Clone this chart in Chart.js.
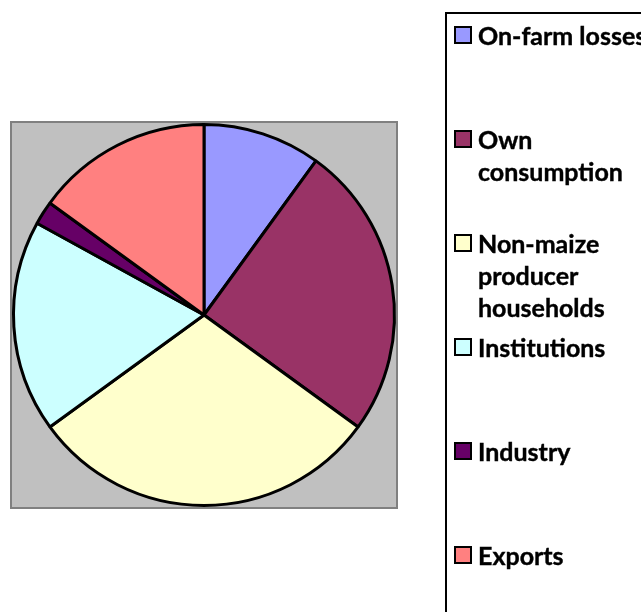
<!DOCTYPE html>
<html>
<head>
<meta charset="utf-8">
<script src="https://cdn.jsdelivr.net/npm/chart.js@4"></script>
<style>
    body { margin: 0; background: #fff; width: 641px; height: 612px; overflow: hidden; position: relative; }
    #pieChart { position: absolute; left: 0; top: 0; }
    .chart-legend {
        position: absolute; left: 445px; top: 12px; width: 220px; height: 640px;
        border: 2px solid #000; box-sizing: border-box;
        font-family: Lato, "Open Sans", sans-serif; font-weight: 700; font-size: 25px; color: #000;
    }
    .chart-legend-item { position: absolute; left: 7px; }
    .legend-color {
        position: absolute; left: 0; top: 0; width: 18px; height: 18px;
        border: 2px solid #000; box-sizing: border-box;
    }
    .legend-text { position: absolute; left: 24px; top: -7px; line-height: 32px; white-space: nowrap; -webkit-text-stroke: 0.4px #000; }
</style>
</head>
<body>
<canvas id="pieChart" width="641" height="612"></canvas>
<div class="chart-legend"></div>
<script>
// Maize utilisation shares (%)
const categories = ['On-farm losses', 'Own consumption', 'Non-maize producer households', 'Institutions', 'Industry', 'Exports'];
const shares = [10, 25, 30, 18, 2, 15];
const sliceColors = ['#9999FF', '#993366', '#FFFFCC', '#CCFFFF', '#660066', '#FF8080'];

// Gray plot area behind the pie
const plotBackground = {
    id: 'plotBackground',
    beforeDraw(chart) {
        const { ctx, chartArea } = chart;
        ctx.save();
        ctx.fillStyle = '#C0C0C0';
        ctx.strokeStyle = '#808080';
        ctx.lineWidth = 2;
        const x = chartArea.left - 1, y = chartArea.top - 1;
        const w = chartArea.right - chartArea.left + 2, h = chartArea.bottom - chartArea.top + 2;
        ctx.fillRect(x, y, w, h);
        ctx.strokeRect(x, y, w, h);
        ctx.restore();
    }
};

function createPieChart() {
    const ctx = document.getElementById('pieChart').getContext('2d');
    return new Chart(ctx, {
        type: 'pie',
        data: {
            labels: categories,
            datasets: [{
                data: shares,
                backgroundColor: sliceColors,
                borderColor: '#000',
                borderWidth: 3
            }]
        },
        options: {
            responsive: false,
            animation: false,
            layout: { padding: { left: 12, top: 123, right: 245, bottom: 105 } },
            plugins: {
                legend: { display: false },
                tooltip: { enabled: false }
            }
        },
        plugins: [plotBackground]
    });
}

// Legend on the right; long labels wrap onto extra lines
function wrapLabel(label) {
    const breaks = {
        'Own consumption': ['Own', 'consumption'],
        'Non-maize producer households': ['Non-maize', 'producer', 'households']
    };
    return breaks[label] || [label];
}

function createLegend() {
    const container = document.querySelector('.chart-legend');
    container.innerHTML = '';
    categories.forEach((label, index) => {
        const item = document.createElement('div');
        item.classList.add('chart-legend-item');
        item.style.top = (12 + index * 104) + 'px';

        const colorBox = document.createElement('div');
        colorBox.classList.add('legend-color');
        colorBox.style.backgroundColor = sliceColors[index];

        const text = document.createElement('div');
        text.classList.add('legend-text');
        text.innerHTML = wrapLabel(label).join('<br>');

        item.appendChild(colorBox);
        item.appendChild(text);
        container.appendChild(item);
    });
}

window.pieChart = createPieChart();
createLegend();
</script>
</body>
</html>
